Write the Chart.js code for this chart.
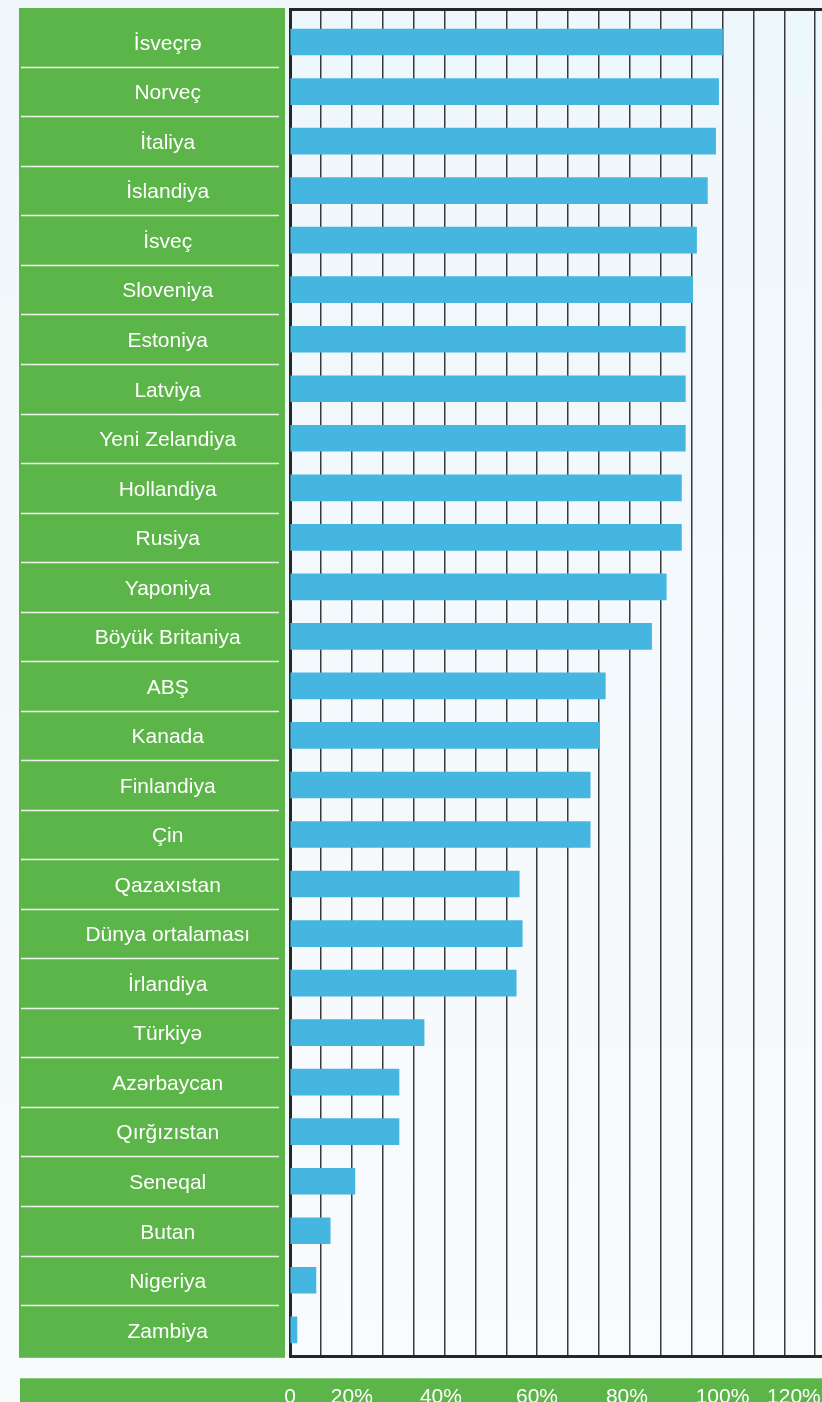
<!DOCTYPE html>
<html>
<head>
<meta charset="utf-8">
<script src="https://cdn.jsdelivr.net/npm/chart.js@4.4.1/dist/chart.umd.min.js"></script>
<style>
    html, body {
        margin: 0;
        padding: 0;
        overflow: hidden;
        background: linear-gradient(#eff7fa, #f8fbfb);
    }
    #wrap {
        width: 822px;
        height: 1438px;
    }
</style>
</head>
<body>
<div id="wrap">
    <canvas id="shareChart" width="822" height="1438"></canvas>
</div>
<script>
const countries = [
    'İsveçrə', 'Norveç', 'İtaliya', 'İslandiya', 'İsveç', 'Sloveniya', 'Estoniya',
    'Latviya', 'Yeni Zelandiya', 'Hollandiya', 'Rusiya', 'Yaponiya', 'Böyük Britaniya',
    'ABŞ', 'Kanada', 'Finlandiya', 'Çin', 'Qazaxıstan', 'Dünya ortalaması', 'İrlandiya',
    'Türkiyə', 'Azərbaycan', 'Qırğızıstan', 'Seneqal', 'Butan', 'Nigeriya', 'Zambiya'
];
const shares = [
    100, 99.1, 98.4, 96.5, 94.0, 93.1, 91.4,
    91.4, 91.4, 90.5, 90.5, 87.0, 83.6,
    72.9, 71.5, 69.4, 69.4, 53.0, 53.7, 52.3,
    31.0, 25.2, 25.2, 15.0, 9.3, 6.0, 1.6
];
// bottom strip labels and where they sit on the value axis
const tickLabels = ['0', '20%', '40%', '60%', '80%', '100%', '120%'];
const tickPlaces = [0, 14.3, 34.9, 57.1, 77.9, 100, 116.5];
const gridStep = 100 / 14;
const gridCount = 17;

const FONT = '"Liberation Sans", Arial, "DejaVu Sans", sans-serif';

// keep tick label overflow from shrinking the plot area
const noEdgePadding = (scale) => {
    scale.paddingTop = 0;
    scale.paddingBottom = 0;
    scale.paddingLeft = 0;
    scale.paddingRight = 0;
};

const panelPlugin = {
    id: 'panels',
    beforeDraw(chart) {
        const { ctx, chartArea: a, scales } = chart;
        ctx.save();
        // plot background
        const g = ctx.createLinearGradient(0, a.top, 0, a.bottom);
        g.addColorStop(0, '#eef7fb');
        g.addColorStop(1, '#f9fbfd');
        ctx.fillStyle = g;
        ctx.fillRect(a.left, a.top, a.right - a.left, a.bottom - a.top);
        // green label panel
        ctx.fillStyle = '#5cb548';
        ctx.fillRect(19, a.top - 1, a.left - 24, a.bottom - a.top + 2);
        // separators between rows
        ctx.strokeStyle = '#f1f6ee';
        ctx.lineWidth = 1.6;
        for (let i = 0; i < countries.length - 1; i++) {
            const y = Math.round(scales.y.getPixelForValue(i + 0.5)) + 0.5;
            ctx.beginPath();
            ctx.moveTo(21, y);
            ctx.lineTo(a.left - 11, y);
            ctx.stroke();
        }
        // bottom strip for tick labels
        ctx.fillStyle = '#5cb548';
        ctx.fillRect(20, a.bottom + 21.5, chart.width - 20, chart.height);
        ctx.restore();
    }
};

new Chart(document.getElementById('shareChart'), {
    type: 'bar',
    data: {
        datasets: [{
            data: countries.map((c, i) => ({ x: shares[i], y: i })),
            backgroundColor: '#45b6e0',
            borderWidth: 0,
            barThickness: 26
        }]
    },
    options: {
        indexAxis: 'y',
        responsive: false,
        animation: false,
        layout: { padding: { top: 9, left: 0, right: 0, bottom: 0 } },
        plugins: {
            legend: { display: false },
            tooltip: { enabled: false }
        },
        scales: {
            y: {
                type: 'linear',
                reverse: true,
                offset: false,
                min: -0.667,
                max: 26.545,
                z: 1,
                afterBuildTicks: (scale) => {
                    scale.ticks = countries.map((c, i) => ({ value: i }));
                },
                afterFit: (scale) => {
                    scale.width = 290;
                    noEdgePadding(scale);
                },
                grid: { display: false, drawTicks: false, offset: false },
                border: { display: true, color: '#262626', width: 3 },
                ticks: {
                    autoSkip: false,
                    crossAlign: 'center',
                    padding: 40,
                    labelOffset: 2,
                    color: '#ffffff',
                    font: { family: FONT, size: 21 },
                    callback: (value) => countries[value]
                }
            },
            x: {
                type: 'linear',
                min: 0,
                max: 123,
                weight: 0,
                afterBuildTicks: (scale) => {
                    scale.ticks = Array.from({ length: gridCount + 1 }, (_, k) => ({ value: k * gridStep }));
                },
                afterFit: noEdgePadding,
                grid: { color: '#3a3a3a', lineWidth: 1.5, drawTicks: false },
                border: { display: true, color: '#262626', width: 3 },
                ticks: { display: false }
            },
            xt: {
                type: 'linear',
                position: 'top',
                axis: 'x',
                min: 0,
                max: 123,
                afterFit: noEdgePadding,
                grid: { display: false, drawTicks: false },
                border: { display: true, color: '#262626', width: 3 },
                ticks: { display: false }
            },
            xl: {
                type: 'linear',
                position: 'bottom',
                axis: 'x',
                min: 0,
                max: 123,
                weight: 1,
                afterBuildTicks: (scale) => {
                    scale.ticks = tickPlaces.map(v => ({ value: v }));
                },
                afterFit: noEdgePadding,
                grid: { display: false, drawTicks: false },
                border: { display: false },
                ticks: {
                    autoSkip: false,
                    maxRotation: 0,
                    padding: 28,
                    color: '#ffffff',
                    font: { family: FONT, size: 21 },
                    callback: (value, index) => tickLabels[index]
                }
            }
        }
    },
    plugins: [panelPlugin]
});
</script>
</body>
</html>
